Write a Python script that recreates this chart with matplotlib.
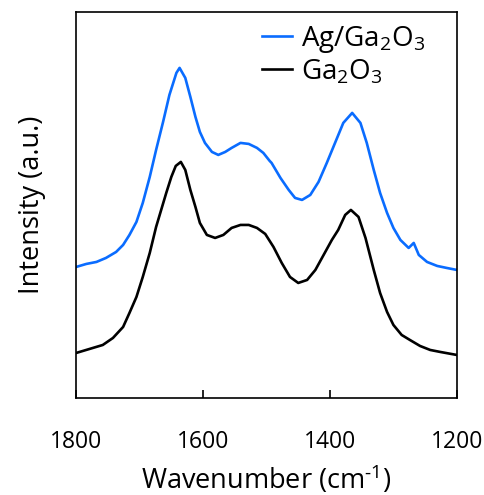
import matplotlib
matplotlib.use("Agg")
import matplotlib.pyplot as plt

plt.rcParams['font.family'] = ['Open Sans', 'DejaVu Sans']
plt.rcParams['mathtext.fontset'] = 'custom'
plt.rcParams['mathtext.rm'] = 'Open Sans'
plt.rcParams['mathtext.it'] = 'Open Sans'
plt.rcParams['mathtext.default'] = 'rm'

# Ag/Ga2O3 spectrum (wavenumber, intensity a.u.)
ag_wn = [1800, 1784, 1768, 1753, 1737, 1726, 1716, 1705, 1695, 1684, 1674, 1663,
         1653, 1642, 1637, 1628, 1620, 1612, 1605, 1597, 1586, 1576, 1565, 1555,
         1541, 1528, 1515, 1505, 1495, 1492, 1478, 1465, 1455, 1444, 1431, 1418,
         1405, 1392, 1379, 1365, 1352, 1342, 1331, 1321, 1310, 1300, 1289, 1276,
         1268, 1260, 1247, 1231, 1216, 1200]
ag_int = [131, 134, 136, 140, 146, 153, 163, 176, 195, 221, 248, 276,
          303, 325, 330, 320, 301, 281, 266, 255, 246, 243, 246, 250,
          255, 254, 250, 245, 237, 235, 220, 208, 200, 198, 203, 216,
          235, 255, 275, 285, 275, 255, 228, 205, 185, 170, 158, 150,
          155, 143, 136, 132, 130, 128]

# Ga2O3 spectrum
ga_wn = [1800, 1779, 1758, 1742, 1726, 1716, 1705, 1695, 1684, 1674, 1666, 1658,
         1650, 1643, 1635, 1628, 1620, 1612, 1605, 1594, 1581, 1568, 1555, 1541,
         1528, 1515, 1502, 1489, 1476, 1463, 1450, 1436, 1423, 1410, 1397, 1387,
         1376, 1367, 1355, 1344, 1331, 1321, 1310, 1300, 1287, 1274, 1258, 1242,
         1226, 1200]
ga_int = [45, 49, 53, 60, 71, 85, 101, 121, 145, 171, 188, 205,
          221, 232, 236, 228, 208, 191, 175, 163, 160, 163, 170, 173,
          173, 170, 164, 151, 135, 121, 115, 118, 128, 143, 158, 168,
          183, 188, 181, 160, 128, 105, 86, 73, 63, 58, 52, 48,
          46, 43]

labels = ['Ag/Ga$_2$O$_3$', 'Ga$_2$O$_3$']
xticks = [1800, 1600, 1400, 1200]

fig = plt.figure(figsize=(4.85, 4.95), dpi=100)
ax = fig.add_axes([0.157, 0.196, 0.785, 0.780])
ax.plot(ag_wn, ag_int, color='#0a6cff', lw=1.9, label=labels[0])
ax.plot(ga_wn, ga_int, color='black', lw=1.9, label=labels[1])
ax.set_xlim(1800, 1200)
ax.set_ylim(0, 386)
ax.set_xticks(xticks)
ax.set_xticklabels([str(t) for t in xticks])
ax.set_yticks([])
ax.tick_params(axis='x', direction='in', length=6, width=1.2, labelsize=16.5, pad=23)
for s in ax.spines.values():
    s.set_linewidth(1.2)
ax.set_xlabel('Wavenumber (cm$^{\u2010 1}$)', fontsize=19.5, labelpad=7)
ax.set_ylabel('Intensity (a.u.)', fontsize=19.5, labelpad=22)
ax.legend(loc='upper right', bbox_to_anchor=(1.0, 1.052), frameon=False,
          fontsize=20, handlelength=1.1, handletextpad=0.3, borderaxespad=0.75,
          labelspacing=0.1)
fig.savefig('out.png', dpi=100)
